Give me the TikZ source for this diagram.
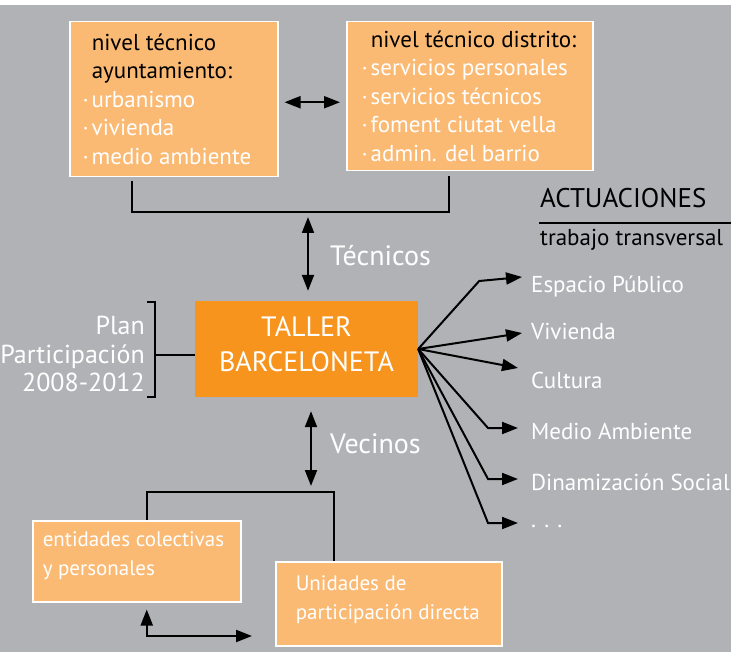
\documentclass[tikz,border=0pt]{standalone}
\usepackage{fontspec}
\setmainfont{PT Sans}
\usepackage{xcolor}
\usetikzlibrary{positioning, arrows.meta}

\definecolor{fondo}{RGB}{177,178,182}
\definecolor{naranjaclaro}{RGB}{251,186,116}
\definecolor{naranja}{RGB}{247,148,30}
\newcommand{\punto}{\llap{·\hspace{3pt}}}

\begin{document}
\begin{tikzpicture}[x=1pt, y=-1pt,
        caja/.style={rectangle, draw=white, line width=1.5pt, fill=naranjaclaro, anchor=north west, inner sep=0pt, font=\fontsize{23}{28.5}\selectfont},
        tallerbox/.style={rectangle, fill=naranja, text=white, inner sep=0pt, font=\fontsize{28}{35}\selectfont},
        etiq/.style={text=white, anchor=west, inner sep=0pt, font=\fontsize{23}{28}\selectfont},
        grande/.style={anchor=west, inner sep=0pt, font=\fontsize{28}{30}\selectfont},
        linea/.style={line width=2pt},
        flecha/.style={line width=2pt, -{Triangle[length=16pt,width=12pt]}},
        doble/.style={line width=2pt, {Triangle[length=16pt,width=12pt]}-{Triangle[length=16pt,width=12pt]}}
    ]
    \useasboundingbox (0,0) rectangle (731,652);
    \fill[white] (0,0) rectangle (731,652);
    \fill[fondo] (0,5) rectangle (731,652);

    % niveles tecnicos
    \node[caja] (ayto) at (69,21)
        {\hspace*{22pt}\parbox[c][155pt][c]{186pt}{\raggedright nivel técnico\\ayuntamiento:\\\textcolor{white}{\punto urbanismo}\\\textcolor{white}{\punto vivienda}\\\textcolor{white}{\punto medio ambiente}}};
    \node[caja] (distrito) at (346,21)
        {\hspace*{24pt}\parbox[c][149pt][c]{222pt}{\raggedright nivel técnico distrito:\\\textcolor{white}{\punto servicios personales}\\\textcolor{white}{\punto servicios técnicos}\\\textcolor{white}{\punto foment ciutat vella}\\\textcolor{white}{\punto admin. del barrio}}};

    \node[tallerbox] (taller) at (306.5,349)
        {\parbox[c][96pt][c]{223pt}{\centering TALLER\\BARCELONETA\par\vspace{10pt}}};
    \node[etiq, anchor=east, align=right, font=\fontsize{26}{28.5}\selectfont] (plan) at (145,354) {Plan\\Participación\\2008-2012};

    \node[grande, text=white] (tecnicos) at (330,256) {Técnicos};
    \node[grande, text=white] (vecinos) at (330,444) {Vecinos};

    \node[grande, font=\fontsize{27}{30}\selectfont] (actuaciones) at (540,198) {ACTUACIONES};
    \node[etiq, text=black] (transversal) at (540,240) {trabajo transversal};

    \node[etiq] (espacio) at (531,287) {Espacio Público};
    \node[etiq] (vivienda) at (531,331) {Vivienda};
    \node[etiq] (cultura) at (531,380) {Cultura};
    \node[etiq] (medio) at (531,431) {Medio Ambiente};
    \node[etiq] (social) at (531,482) {Dinamización Social};
    \node[etiq] (otros) at (531,526) {. . .};

    % vecinos
    \node[caja, text=white, font=\fontsize{21}{28.5}\selectfont] (entidades) at (32,520)
        {\hspace*{10pt}\parbox[c][81pt][t]{198pt}{\raggedright\vspace*{11pt}entidades colectivas\\y personales}};
    \node[caja, text=white, font=\fontsize{21}{28.5}\selectfont] (unidades) at (275,561)
        {\hspace*{20pt}\parbox[c][84pt][t]{206pt}{\raggedright\vspace*{14pt}Unidades de\\participación directa}};

    \coordinate (juntaT) at (308,212);
    \coordinate (juntaV) at (311,492);
    \coordinate (llave) at (155,355);
    \coordinate (finV) at (252,636);

    \draw[doble] ([xshift=6pt,yshift=-3pt]ayto.east) -- ([xshift=-6pt,yshift=-3pt]ayto.east -| distrito.west);
    \draw[linea] ([xshift=-42pt,yshift=-4pt]ayto.south) |- (juntaT) -| ([xshift=-21pt,yshift=-5pt]distrito.south);
    \draw[doble] ([yshift=-5pt]juntaT) -- ([yshift=10pt]taller.north -| juntaT);

    \draw[linea] (147,302) -| (155,397) -- (147,397);
    \draw[linea] (llave) -- (llave -| taller.west);

    \draw[doble] ([yshift=-14pt]taller.south -| juntaV) -- ([yshift=6pt]juntaV);
    \draw[linea] ([xshift=10pt]entidades.north) |- (juntaV) -| ([xshift=-55pt]unidades.north);
    \draw[doble] ([xshift=10pt,yshift=-7pt]entidades.south) |- (finV);

    \draw[linea] (539,223) -- (731,223);

    \draw[flecha] (taller.east) -- ++(61,-68) -- ([xshift=-9pt,yshift=10pt]espacio.west);
    \draw[flecha] (taller.east) -- ([xshift=-9pt,yshift=-2pt]vivienda.west);
    \draw[flecha] (taller.east) -- ([xshift=-13pt,yshift=12pt]cultura.west);
    \draw[flecha] (taller.east) -- ([xshift=-43pt,yshift=3pt]medio.west) -- ([xshift=-13pt,yshift=3pt]medio.west);
    \draw[flecha] (taller.east) -- ([xshift=-43pt,yshift=3pt]social.west) -- ([xshift=-13pt,yshift=3pt]social.west);
    \draw[flecha] (taller.east) -- ([xshift=-43pt,yshift=3pt]otros.west) -- ([xshift=-13pt,yshift=3pt]otros.west);
\end{tikzpicture}
\end{document}
